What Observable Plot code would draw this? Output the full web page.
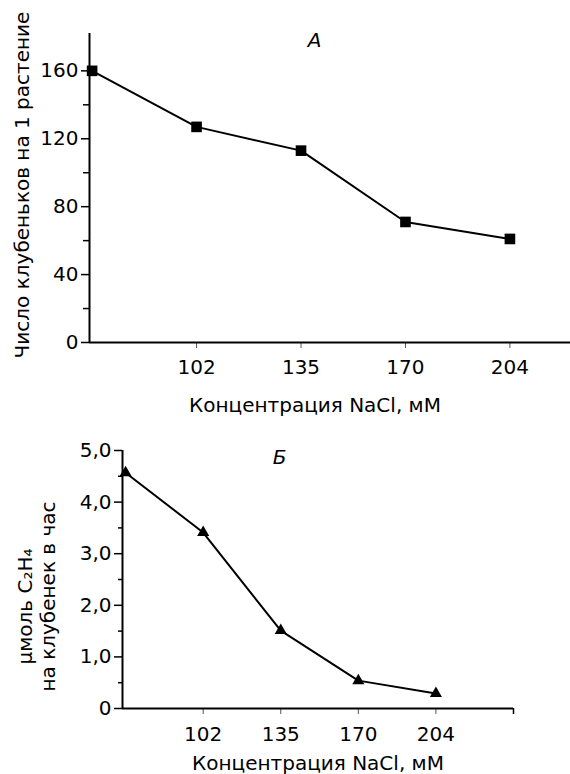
<!DOCTYPE html>
<html>
<head>
<meta charset="utf-8">
<script src="https://cdn.jsdelivr.net/npm/d3@7"></script>
<script src="https://cdn.jsdelivr.net/npm/@observablehq/plot@0.6"></script>
<style>
  html, body { margin: 0; padding: 0; background: white; }
  #chart svg { display: block; }
</style>
</head>
<body>
<div id="chart"></div>
<script>
// ---- data ----
const concentrations = [0, 102, 135, 170, 204];           // NaCl, mM
const xTickLabels = ["", "102", "135", "170", "204"];
const nodulesPerPlant = [160, 127, 113, 71, 61];          // panel А
const ethyleneRate = [4.57, 3.41, 1.51, 0.54, 0.29];      // panel Б
const yTicksA = [0, 40, 80, 120, 160];
const yMinorA = [20, 60, 100, 140];
const yTicksB = [0, 1, 2, 3, 4, 5];
const yMinorB = [0.5, 1.5, 2.5, 3.5, 4.5];
const xLabel = "Концентрация NaCl, мМ";
const yLabelA = "Число клубеньков на 1 растение";
const yLabelB1 = "μмоль C₂H₄";
const yLabelB2 = "на клубенек в час";
const panelA = "А";
const panelB = "Б";

const dataA = concentrations.map((c, i) => ({i, c, v: nodulesPerPlant[i]}));
const dataB = concentrations.map((c, i) => ({i, c, v: ethyleneRate[i]}));

const font = "DejaVu Sans, Liberation Sans, sans-serif";
const style = {fontFamily: font, fontSize: "20px", background: "white", color: "black", overflow: "visible"};
const tickFont = 20;
const labelFont = 20;

const xMinA = -0.025;
const chartA = Plot.plot({
  width: 570, height: 420,
  marginLeft: 89, marginRight: 0, marginTop: 33, marginBottom: 78,
  style,
  x: {domain: [xMinA, 4.58], axis: null, label: null},
  y: {domain: [0, 182], axis: null, label: null},
  marks: [
    Plot.axisY(yTicksA, {tickSize: 8, tickPadding: 3, fontSize: tickFont, strokeWidth: 1.5, label: null}),
    Plot.axisY(yMinorA, {tickSize: 6, tickFormat: () => "", strokeWidth: 1.5, label: null}),
    Plot.axisX([1, 2, 3, 4], {tickSize: 6, tickPadding: 11, fontSize: tickFont, stroke: "#555", tickFormat: i => xTickLabels[i], label: null}),
    Plot.ruleX([xMinA], {strokeWidth: 2}),
    Plot.ruleY([0], {strokeWidth: 2}),
    Plot.line(dataA, {x: "i", y: "v", strokeWidth: 2, stroke: "black"}),
    Plot.dot(dataA, {x: "i", y: "v", symbol: "square", r: 6, fill: "black", stroke: "none"}),
    Plot.text([panelA], {frameAnchor: "top-left", textAnchor: "middle", lineAnchor: "middle", dx: 225, dy: 7, fontSize: labelFont, fontStyle: "italic"}),
    Plot.text([xLabel], {frameAnchor: "bottom", textAnchor: "middle", lineAnchor: "middle", dx: -15, dy: 63, fontSize: labelFont}),
    Plot.text([yLabelA], {frameAnchor: "left", textAnchor: "middle", rotate: -90, dx: -67, dy: -3, fontSize: labelFont})
  ]
});

const xMinB = -0.04;
const chartB = Plot.plot({
  width: 570, height: 354,
  marginLeft: 122, marginRight: 57, marginTop: 30, marginBottom: 66,
  style,
  x: {domain: [xMinB, 5.0], axis: null, label: null},
  y: {domain: [0, 5], axis: null, label: null},
  marks: [
    Plot.axisY(yTicksB, {tickSize: 8, tickPadding: 3, fontSize: tickFont, strokeWidth: 1.5, label: null,
      tickFormat: d => d === 0 ? "0" : d.toFixed(1).replace(".", ",")}),
    Plot.axisY(yMinorB, {tickSize: 4, tickFormat: () => "", strokeWidth: 1.5, label: null}),
    Plot.axisX([1, 2, 3, 4], {tickSize: 6, tickPadding: 12, fontSize: tickFont, stroke: "#555", tickFormat: i => xTickLabels[i], label: null}),
    Plot.axisX([5], {tickSize: 6, tickFormat: () => "", strokeWidth: 1.5, label: null}),
    Plot.ruleX([xMinB], {strokeWidth: 2}),
    Plot.ruleY([0], {strokeWidth: 2}),
    Plot.line(dataB, {x: "i", y: "v", strokeWidth: 2, stroke: "black"}),
    Plot.dot(dataB, {x: "i", y: "v", symbol: "triangle", r: 4.5, fill: "black", stroke: "none"}),
    Plot.text([panelB], {frameAnchor: "top-left", textAnchor: "middle", lineAnchor: "middle", dx: 157, dy: 7, fontSize: labelFont, fontStyle: "italic"}),
    Plot.text([xLabel], {frameAnchor: "bottom", textAnchor: "middle", lineAnchor: "middle", dx: 0, dy: 55, fontSize: labelFont}),
    Plot.text([yLabelB1], {frameAnchor: "left", textAnchor: "middle", rotate: -90, dx: -97, dy: 27, fontSize: labelFont}),
    Plot.text([yLabelB2], {frameAnchor: "left", textAnchor: "middle", rotate: -90, dx: -74, dy: 17, fontSize: labelFont})
  ]
});

const root = document.getElementById("chart");
root.appendChild(chartA);
root.appendChild(chartB);
</script>
</body>
</html>
